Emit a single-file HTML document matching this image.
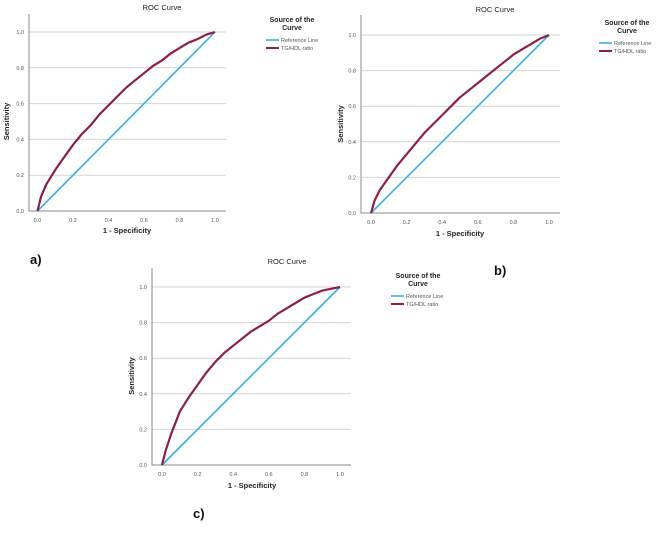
<!DOCTYPE html>
<html><head><meta charset="utf-8"><style>
body{margin:0;background:#fff;width:669px;height:539px;overflow:hidden;font-family:"Liberation Sans",sans-serif}
svg{display:block}
</style></head><body>
<svg id="chart" width="669" height="539"></svg>
<script>
const fprGrid=[0,0.02,0.05,0.1,0.15,0.2,0.25,0.3,0.35,0.4,0.45,0.5,0.55,0.6,0.65,0.7,0.75,0.8,0.85,0.9,0.95,1];
const tprA=[0,0.08,0.15,0.23,0.3,0.37,0.43,0.48,0.54,0.59,0.64,0.69,0.73,0.77,0.81,0.84,0.88,0.91,0.94,0.96,0.985,1];
const tprB=[0,0.07,0.13,0.2,0.27,0.33,0.39,0.45,0.5,0.55,0.6,0.65,0.69,0.73,0.77,0.81,0.85,0.89,0.92,0.95,0.98,1];
const tprC=[0,0.08,0.17,0.3,0.38,0.45,0.52,0.58,0.63,0.67,0.71,0.75,0.78,0.81,0.85,0.88,0.91,0.94,0.96,0.98,0.99,1];
const tickLabels=["0.0","0.2","0.4","0.6","0.8","1.0"];
const tickVals=[0,0.2,0.4,0.6,0.8,1];
const refLine=[0,1];

const NS="http://www.w3.org/2000/svg";
const svg=document.getElementById('chart');
function mk(tag,attrs,parent,text){const e=document.createElementNS(NS,tag);for(const k in attrs)e.setAttribute(k,attrs[k]);if(text!==undefined)e.textContent=text;parent.appendChild(e);return e;}

const panels=[
 {id:'a',data:tprA,axX:29,x0:37.5,x1:215,y1:32,y0:211,top:14,right:226,tx:162,ty:10,lgx:292,lgy:20,lx:266,label:'a)',labx:30,laby:264,ytx:9,xtx:127,xty:233},
 {id:'b',data:tprB,axX:361,x0:371,x1:549,y1:35,y0:213,top:15,right:560,tx:495,ty:12,lgx:627,lgy:23,lx:599,label:'b)',labx:494,laby:275,ytx:343,xtx:460,xty:236},
 {id:'c',data:tprC,axX:152,x0:162,x1:340,y1:287,y0:465,top:268,right:351,tx:287,ty:264,lgx:418,lgy:276,lx:391,label:'c)',labx:193,laby:518,ytx:134,xtx:252,xty:488}
];

panels.forEach(p=>{
 const g=mk('g',{},svg);
 
 
 const sx=v=>p.x0+v*(p.x1-p.x0);
 const sy=v=>p.y0-v*(p.y0-p.y1);
 tickVals.forEach((v,i)=>{
  if(v>0){const gl=mk('line',{x1:p.axX,x2:p.right,y1:sy(v),y2:sy(v),stroke:'#d4d4d4','stroke-width':1},g);
   }
  const yt=mk('text',{x:p.axX-5,y:sy(v)+2,'font-size':5.5,fill:'#555','text-anchor':'end'},g,tickLabels[i]);
  
  const xt=mk('text',{x:sx(v),y:p.y0+11,'font-size':5.5,fill:'#555','text-anchor':'middle'},g,tickLabels[i]);
  
 });
 const ax=mk('path',{d:`M${p.axX} ${p.top}V${p.y0}H${p.right}`,stroke:'#888',fill:'none','stroke-width':1},g);
 
 const rl=mk('line',{x1:sx(refLine[0]),y1:sy(refLine[0]),x2:sx(refLine[1]),y2:sy(refLine[1]),stroke:'#3cb0e0','stroke-width':1.6},g);
 
 const pts=fprGrid.map((f,i)=>sx(f).toFixed(1)+','+sy(p.data[i]).toFixed(1)).join(' ');
 const cv=mk('polyline',{points:pts,stroke:'#8b1f4a',fill:'none','stroke-width':2.2,'stroke-linejoin':'round'},g);
 
 const t=mk('text',{x:p.tx,y:p.ty,'font-size':7.5,fill:'#222','text-anchor':'middle'},g,'ROC Curve');
 
 const yt=mk('text',{x:p.ytx,y:(p.y0+p.y1)/2,'font-size':7.5,'font-weight':'bold',fill:'#222','text-anchor':'middle',transform:`rotate(-90 ${p.ytx} ${(p.y0+p.y1)/2})`},g,'Sensitivity');
 
 const xt=mk('text',{x:p.xtx,y:p.xty,'font-size':7.5,'font-weight':'bold',fill:'#222','text-anchor':'middle'},g,'1 - Specificity');
 
 const lt1=mk('text',{x:p.lgx,y:p.lgy+2,'font-size':7,'font-weight':'bold',fill:'#222','text-anchor':'middle'},g,'Source of the');
 
 const lt2=mk('text',{x:p.lgx,y:p.lgy+10,'font-size':7,'font-weight':'bold',fill:'#222','text-anchor':'middle'},g,'Curve');
 
 const l1=mk('line',{x1:p.lx,x2:p.lx+13,y1:p.lgy+20,y2:p.lgy+20,stroke:'#3cb0e0','stroke-width':1.6},g);
 
 const e1=mk('text',{x:p.lx+15,y:p.lgy+22,'font-size':5.5,fill:'#555'},g,'Reference Line');
 
 const l2=mk('line',{x1:p.lx,x2:p.lx+13,y1:p.lgy+28,y2:p.lgy+28,stroke:'#8b1f4a','stroke-width':2},g);
 
 const e2=mk('text',{x:p.lx+15,y:p.lgy+30,'font-size':5.5,fill:'#555'},g,'TG/HDL ratio');
 
 const lb=mk('text',{x:p.labx,y:p.laby,'font-size':13,'font-weight':'bold',fill:'#111'},g,p.label);
 
});
</script>
</body></html>
